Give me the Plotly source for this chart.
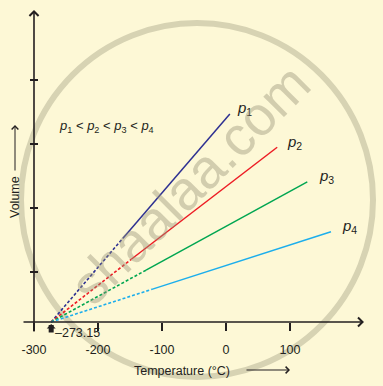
import plotly.graph_objects as go

# ---------------- data ----------------
abs_zero = -273.15
series = ["1", "2", "3", "4"]
t_break = [-161, -148, -125, -116]      # where dashed extrapolation turns solid
v_break = [1.31, 0.98, 0.81, 0.51]
t_end = [6, 80, 127, 164]
v_end = [3.25, 2.73, 2.19, 1.41]
x_tick_vals = [-300, -200, -100, 0, 100]
x_tick_text = ["-300", "-200", "-100", "0", "100"]
y_tick_vals = [0.78, 1.78, 2.78, 3.78]

# ---------------- style ----------------
W, H = 383, 386
colors = ["#2E3192", "#ED1C24", "#00A651", "#1CAEEC"]
ink = "#231F20"
bg = "#FDF8D6"
font = "Liberation Sans, Arial, sans-serif"
x_range = [-353.125, 245.3125]
y_range = [-1.0, 5.03125]

fig = go.Figure()
for i, s in enumerate(series):
    fig.add_trace(go.Scatter(x=[abs_zero, t_break[i]], y=[0, v_break[i]], mode="lines",
                             line=dict(color=colors[i], width=1.6, dash="3px,2px"),
                             hoverinfo="skip", showlegend=False))
    fig.add_trace(go.Scatter(x=[t_break[i], t_end[i]], y=[v_break[i], v_end[i]], mode="lines",
                             line=dict(color=colors[i], width=1.5),
                             hoverinfo="skip", showlegend=False))

ann = []
# series labels
shifts = [(5, 6), (8, 5), (10, 5), (9, 5)]
for i, s in enumerate(series):
    ann.append(dict(x=t_end[i], y=v_end[i], xref="x", yref="y", showarrow=False,
                    text=f"<i>p</i><sub>{s}</sub>", xanchor="left", yanchor="middle",
                    xshift=shifts[i][0], yshift=shifts[i][1],
                    font=dict(family=font, size=15, color=ink)))

# axes drawn as arrows
ann.append(dict(x=215.6, y=0, ax=-318.75, ay=0, xref="x", yref="y", axref="x", ayref="y",
                showarrow=True, arrowhead=4, arrowsize=1.1, arrowwidth=1.6, arrowcolor=ink, text=""))
ann.append(dict(x=-300, y=4.875, ax=-300, ay=-0.172, xref="x", yref="y", axref="x", ayref="y",
                showarrow=True, arrowhead=4, arrowsize=1.1, arrowwidth=1.6, arrowcolor=ink, text=""))

# absolute zero marker
ann.append(dict(x=abs_zero, y=0, xref="x", yref="y", ax=0, ay=12, showarrow=True,
                arrowhead=1, arrowsize=0.3, arrowwidth=5, arrowcolor=ink, standoff=2, text=""))
ann.append(dict(x=abs_zero, y=0, xref="x", yref="y", showarrow=False, text="\u2013273.15",
                xanchor="left", yanchor="top", xshift=2, yshift=-2,
                font=dict(family=font, size=12.5, color=ink)))

# pressure relation
ann.append(dict(x=57 / W, y=1 - 126 / H, xref="paper", yref="paper", showarrow=False,
                text="<i>p</i><sub>1</sub> < <i>p</i><sub>2</sub> < <i>p</i><sub>3</sub> < <i>p</i><sub>4</sub>",
                xanchor="left", yanchor="middle", font=dict(family=font, size=13, color=ink)))

# axis titles with arrows
ann.append(dict(x=182 / W, y=1 - 371 / H, xref="paper", yref="paper", showarrow=False,
                text="Temperature (°C)", xanchor="center", yanchor="middle",
                font=dict(family=font, size=12.5, color=ink)))
ann.append(dict(x=290 / W, y=1 - 370 / H, xref="paper", yref="paper", ax=-45, ay=0,
                showarrow=True, arrowhead=4, arrowsize=1.3, arrowwidth=1, arrowcolor=ink, text=""))
ann.append(dict(x=15 / W, y=1 - 197 / H, xref="paper", yref="paper", showarrow=False,
                text="Volume", textangle=-90, xanchor="center", yanchor="middle",
                font=dict(family=font, size=12.5, color=ink)))
ann.append(dict(x=15 / W, y=1 - 125 / H, xref="paper", yref="paper", ax=0, ay=47,
                showarrow=True, arrowhead=4, arrowsize=1.3, arrowwidth=1, arrowcolor=ink, text=""))

# watermark
ann.append(dict(x=190 / W, y=1 - 184 / H, xref="paper", yref="paper", showarrow=False,
                text="shaalaa.com", textangle=-45, xanchor="center", yanchor="middle",
                font=dict(family=font, size=55, color="rgba(150,145,118,0.42)")))

shapes = [dict(type="circle", xref="paper", yref="paper", layer="below",
               x0=21 / W, x1=373 / W, y0=1 - 377 / H, y1=1 - 23 / H,
               line=dict(color="#D7D3B3", width=6))]

fig.update_layout(
    width=W, height=H, autosize=False,
    margin=dict(l=0, r=0, t=0, b=0),
    paper_bgcolor=bg, plot_bgcolor=bg,
    annotations=ann, shapes=shapes,
    xaxis=dict(range=x_range, showgrid=False, zeroline=False, showline=False,
               anchor="free", position=(H - 322) / H,
               tickmode="array", tickvals=x_tick_vals, ticktext=x_tick_text,
               ticks="outside", ticklen=8, tickwidth=1.6, tickcolor=ink,
               ticklabelstandoff=8,
               tickfont=dict(family=font, size=12.5, color=ink), fixedrange=True),
    yaxis=dict(range=y_range, showgrid=False, zeroline=False, showline=False,
               anchor="free", position=38 / W,
               tickmode="array", tickvals=y_tick_vals,
               ticks="outside", ticklen=8, tickwidth=1.6, tickcolor=ink,
               showticklabels=False, fixedrange=True),
)

fig.write_html("out.html", config={"displayModeBar": False})
